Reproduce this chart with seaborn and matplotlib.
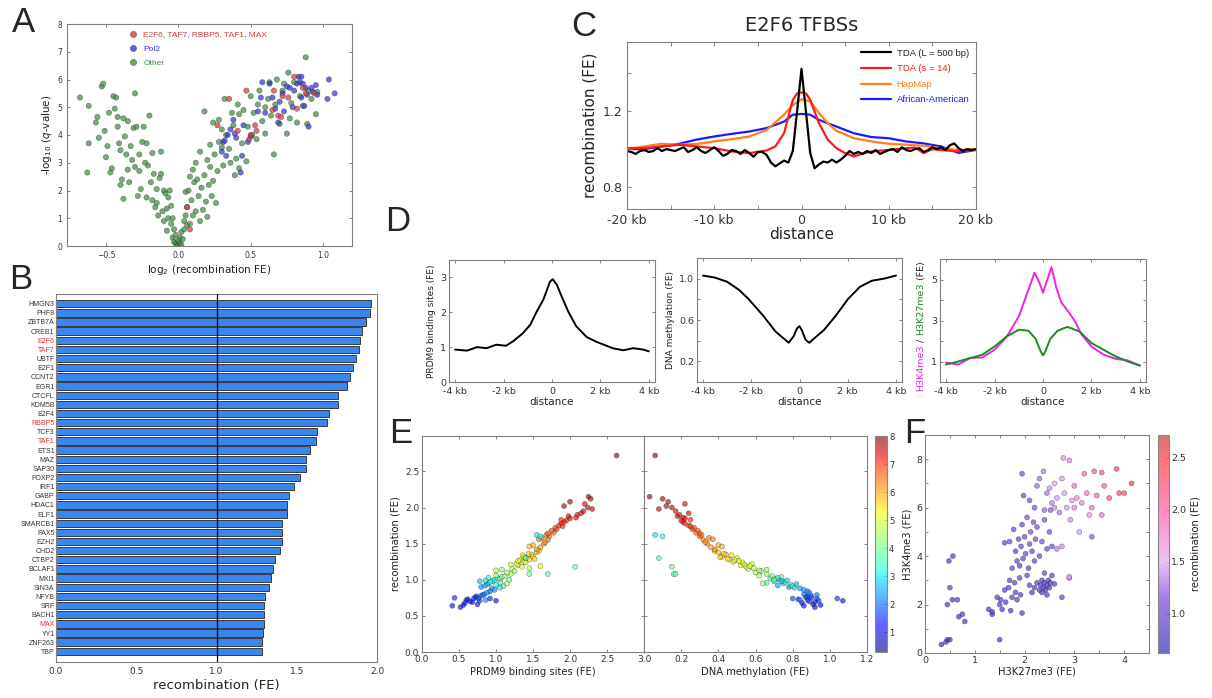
import numpy as np
import pandas as pd
import matplotlib
matplotlib.use("Agg")
import matplotlib.pyplot as plt
import seaborn as sns
from matplotlib.colors import LinearSegmentedColormap, ListedColormap, Normalize
from matplotlib.cm import ScalarMappable
from matplotlib.lines import Line2D
from matplotlib.ticker import MultipleLocator

# ---------------- DATA ----------------
# Panel A: volcano plot
a_other_x = [-0.68,-0.62,-0.62,-0.63,-0.57,-0.56,-0.55,-0.53,-0.52,-0.51,
             -0.50,-0.49,-0.48,-0.47,-0.46,-0.45,-0.44,-0.43,-0.42,-0.42,
             -0.41,-0.40,-0.40,-0.39,-0.38,-0.38,-0.37,-0.36,-0.35,-0.35,
             -0.34,-0.33,-0.32,-0.31,-0.30,-0.30,-0.29,-0.28,-0.27,-0.27,
             -0.26,-0.25,-0.24,-0.23,-0.22,-0.22,-0.21,-0.20,-0.19,-0.18,
             -0.18,-0.17,-0.16,-0.15,-0.15,-0.14,-0.13,-0.12,-0.12,-0.11,
             -0.10,-0.10,-0.09,-0.08,-0.08,-0.07,-0.07,-0.06,-0.05,-0.05,
             -0.04,-0.04,-0.03,-0.03,-0.02,-0.02,-0.01,0.00,0.00,0.01,
             0.01,0.02,0.02,0.03,0.04,0.04,0.05,0.05,0.06,0.06,
             0.07,0.08,0.08,0.09,0.10,0.10,0.11,0.12,0.12,0.13,
             0.14,0.15,0.15,0.16,0.17,0.18,0.18,0.19,0.20,0.20,
             0.21,0.22,0.22,0.23,0.24,0.24,0.25,0.26,0.27,0.28,
             0.28,0.30,0.30,0.31,0.32,0.33,0.35,0.36,0.37,0.38,
             0.39,0.40,0.41,0.42,0.42,0.44,0.45,0.47,0.48,0.50,
             0.51,0.52,0.54,0.55,0.56,0.58,0.60,0.60,0.62,0.63,
             0.64,0.66,0.67,0.68,0.70,0.72,0.73,0.75,0.76,0.77,
             0.78,0.80,0.82,0.84,0.86,0.88,0.89,0.90,0.92,0.95,
             0.96]
a_other_y = [5.35,5.05,3.70,2.65,4.45,4.65,3.90,5.75,5.85,4.15,
             3.20,3.60,4.80,2.65,2.80,5.40,4.95,5.35,4.30,4.65,
             3.70,3.45,2.20,2.40,1.70,4.60,3.95,3.30,4.50,2.75,
             2.30,3.60,3.10,4.25,5.50,2.85,4.30,1.80,3.30,2.70,
             2.05,3.75,4.30,3.00,1.75,3.70,2.90,4.70,2.30,3.35,
             1.65,2.60,1.40,2.05,1.55,1.10,2.45,3.40,2.60,1.25,
             0.90,2.00,1.90,1.35,0.55,1.00,1.75,2.00,0.80,1.45,
             0.30,1.00,0.60,0.15,0.40,0.10,0.05,0.20,0.02,0.30,
             0.10,0.05,0.50,0.25,0.90,0.60,1.10,1.95,1.40,0.75,
             2.00,0.80,2.50,1.65,2.75,1.10,2.30,1.25,3.00,2.40,
             1.80,3.40,0.90,2.10,1.30,4.85,2.55,1.60,3.10,1.05,
             2.20,2.85,3.65,1.80,2.35,4.45,3.30,1.55,2.70,3.75,
             4.55,4.20,3.55,2.90,5.30,4.00,3.50,3.00,4.80,4.35,
             2.55,3.15,5.10,4.75,2.80,3.70,4.90,3.05,4.30,5.40,
             4.00,4.80,3.85,5.10,5.60,4.50,5.00,4.05,5.30,5.90,
             4.70,3.30,5.10,6.00,4.40,5.60,5.85,4.05,6.25,4.60,
             5.15,5.90,4.45,5.40,5.05,6.80,4.40,5.60,5.30,4.75,
             5.55]
a_pol2_x = [0.30,0.31,0.32,0.33,0.34,0.36,0.38,0.39,0.40,0.43,
            0.44,0.45,0.48,0.50,0.55,0.57,0.58,0.60,0.63,0.65,
            0.67,0.69,0.70,0.72,0.73,0.75,0.77,0.79,0.80,0.82,
            0.83,0.84,0.85,0.86,0.87,0.88,0.89,0.90,0.92,0.93,
            0.95,0.96,1.03,1.04,1.08,0.85]
a_pol2_y = [3.40,3.75,3.80,3.25,4.00,4.20,4.55,4.05,3.90,2.65,
            3.25,4.35,3.75,3.95,4.85,5.35,5.90,4.80,5.85,5.35,
            4.95,4.45,5.20,5.50,4.85,5.75,5.70,5.00,5.60,5.85,
            6.10,5.90,5.35,5.85,5.05,5.70,5.45,4.30,5.70,5.55,
            5.80,5.45,5.30,6.00,5.50,6.10]
a_tf_x = [0.06,0.08,0.27,0.35,0.41,0.47,0.49,0.50,0.53,0.54,
          0.65,0.66,0.69,0.71,0.72,0.76,0.80,0.82,0.86,0.88,0.94]
a_tf_y = [1.40,0.60,4.35,5.30,4.15,5.60,3.85,4.00,4.35,4.15,
          4.90,5.60,4.70,4.65,5.40,5.35,6.10,4.95,5.70,5.50,5.50]
a_groups = ["E2F6, TAF7, RBBP5, TAF1, MAX", "Pol2", "Other"]

# Panel B: recombination FE per factor
b_factors = ['HMGN3','PHF8','ZBTB7A','CREB1','E2F6','TAF7','UBTF','E2F1','CCNT2','EGR1',
             'CTCFL','KDM5B','E2F4','RBBP5','TCF3','TAF1','ETS1','MAZ','SAP30','FOXP2',
             'IRF1','GABP','HDAC1','ELF1','SMARCB1','PAX5','EZH2','CHD2','CTBP2','BCLAF1',
             'MXI1','SIN3A','NFYB','SRF','BACH1','MAX','YY1','ZNF263','TBP']
b_values = [1.965,1.958,1.934,1.907,1.892,1.890,1.867,1.850,1.834,1.815,
            1.757,1.757,1.700,1.689,1.629,1.620,1.585,1.560,1.556,1.519,
            1.483,1.452,1.440,1.440,1.409,1.405,1.405,1.396,1.367,1.349,
            1.340,1.328,1.305,1.297,1.295,1.295,1.290,1.286,1.286]
b_highlight = ['E2F6','TAF7','RBBP5','TAF1','MAX']

# Panel C: recombination around E2F6 TFBSs
c_black_x = [-20,-19.5,-19,-18.5,-18,-17.5,-17,-16.5,-16,-15.5,-15,-14.5,-14,-13.5,-13,-12.5,
             -12,-11.5,-11,-10.5,-10,-9.5,-9,-8.5,-8,-7.5,-7,-6.5,-6,-5.5,-5,-4.5,-4,-3.5,
             -3,-2.5,-2,-1.5,-1,-0.5,0,0.5,1,1.5,2,2.5,3,3.5,4,4.5,5,5.5,6,6.5,7,7.5,8,8.5,
             9,9.5,10,10.5,11,11.5,12,12.5,13,13.5,14,14.5,15,15.5,16,16.5,17,17.5,18,18.5,
             19,19.5,20]
c_black_y = [0.990,0.985,0.975,0.990,0.995,0.985,0.990,1.005,0.990,1.000,0.995,0.990,1.000,1.010,
             0.985,0.995,1.010,0.990,0.980,0.995,1.010,0.990,0.965,0.975,0.995,0.990,0.975,0.995,
             0.980,0.960,0.985,0.985,0.970,0.930,0.910,0.925,0.940,0.930,0.990,1.200,1.420,1.200,
             0.980,0.900,0.920,0.935,0.930,0.945,0.930,0.945,0.965,0.990,0.975,0.985,0.975,0.990,
             0.980,0.995,0.975,0.985,0.995,1.000,0.985,1.010,0.995,0.990,1.000,1.005,0.985,0.995,
             1.010,1.000,1.010,0.995,1.020,1.030,1.005,0.990,1.000,0.995,1.000]
c_red_x = [-20,-18,-16,-14,-12,-10,-8,-6,-4,-3,-2,-1,-0.5,0,0.5,1,2,3,4,5,6,7,8,10,12,13,14,15,16,18,20]
c_red_y = [1.005,1.005,1.014,1.023,1.014,1.005,0.988,0.979,0.993,1.014,1.083,1.257,1.292,1.296,1.292,
           1.257,1.136,1.050,1.005,0.979,0.962,0.976,0.988,0.996,1.005,1.008,0.979,1.000,0.995,0.988,0.998]
c_orange_x = [-20,-18,-16,-14,-12,-10,-8,-6,-4,-2,-1,0,1,2,3,4,6,8,10,12,14,16,18,20]
c_orange_y = [1.000,1.014,1.028,1.023,1.027,1.040,1.052,1.066,1.100,1.180,1.230,1.260,1.250,1.188,
              1.136,1.096,1.057,1.040,1.028,1.023,1.018,1.005,0.996,1.000]
c_blue_x = [-20,-18,-16,-14,-12,-10,-8,-6,-4,-2,-1,0,1,2,4,6,8,10,12,14,16,18,20]
c_blue_y = [1.000,1.000,1.014,1.028,1.050,1.066,1.080,1.092,1.110,1.144,1.180,1.184,1.180,1.153,
            1.118,1.083,1.063,1.057,1.040,1.030,1.014,0.980,0.996]
c_series = ["TDA (L = 500 bp)", "TDA (s = 14)", "HapMap", "African-American"]

# Panel D profiles (distance in kb)
d1_x = [-4.0,-3.5,-3.1,-2.7,-2.3,-1.9,-1.6,-1.2,-0.9,-0.63,-0.36,-0.08,0.03,0.2,0.4,0.67,1.0,1.43,
        1.84,2.25,2.5,2.94,3.35,3.76,4.0]
d1_y = [0.93,0.90,1.00,0.97,1.07,1.04,1.17,1.40,1.64,2.02,2.36,2.88,2.95,2.79,2.45,2.02,1.60,1.29,
        1.15,1.04,0.97,0.91,0.97,0.93,0.88]
d2_x = [-4.0,-3.5,-3.0,-2.5,-2.1,-1.5,-1.0,-0.7,-0.45,-0.25,-0.1,0.0,0.1,0.25,0.4,0.6,1.0,1.5,2.0,
        2.5,3.0,3.5,4.0]
d2_y = [1.03,1.01,0.97,0.89,0.80,0.64,0.49,0.43,0.38,0.44,0.52,0.54,0.50,0.41,0.38,0.42,0.50,0.64,
        0.80,0.92,0.98,1.00,1.03]
d3_k4_x = [-4.0,-3.5,-3.0,-2.5,-2.0,-1.5,-1.0,-0.6,-0.35,-0.15,0.0,0.15,0.35,0.55,0.75,1.0,1.3,1.6,
           2.0,2.5,3.0,3.5,4.0]
d3_k4_y = [0.95,0.85,1.17,1.20,1.57,2.20,3.20,4.50,5.33,4.85,4.35,4.90,5.60,4.60,3.90,3.50,3.00,
           2.30,1.73,1.33,1.13,1.05,0.80]
d3_k27_x = [-4.0,-3.5,-3.0,-2.5,-2.0,-1.5,-1.0,-0.6,-0.3,-0.1,0.0,0.1,0.3,0.6,1.0,1.5,2.0,2.5,3.0,
            3.5,4.0]
d3_k27_y = [0.85,1.00,1.17,1.33,1.73,2.22,2.55,2.50,2.10,1.50,1.30,1.50,2.10,2.50,2.69,2.47,1.90,
            1.57,1.25,1.00,0.80]

# Panel E: per-locus PRDM9 / methylation vs recombination, colour = third mark
e_recomb = [0.64,0.62,0.75,0.72,0.68,0.70,0.74,0.76,0.66,0.71,0.73,0.78,0.80,0.69,0.77,0.65,0.72,0.74,0.79,0.82,
            0.92,0.95,0.98,1.00,1.02,0.90,0.94,0.97,1.01,1.04,0.88,0.93,0.96,0.99,1.03,1.05,0.91,0.86,0.95,1.00,
            0.98,1.06,0.89,0.84,1.08,
            1.10,1.15,1.20,1.25,1.30,1.35,1.12,1.18,1.22,1.28,1.32,1.38,1.14,1.24,1.27,1.34,1.40,1.16,1.21,1.29,
            1.36,1.19,1.26,1.31,1.13,
            1.42,1.45,1.50,1.55,1.60,1.65,1.70,1.75,1.48,1.58,1.62,1.68,1.72,1.78,1.52,1.46,1.64,1.56,1.74,1.80,
            1.82,1.85,1.88,1.90,1.95,2.00,2.05,2.08,2.12,2.15,1.86,1.92,1.98,2.02,1.83,2.72,
            1.62,1.60,1.30,1.18,1.08,1.08,0.74,0.71]
e_prdm9 = [0.41,0.52,0.44,0.60,0.58,0.65,0.70,0.72,0.75,0.78,0.62,0.80,0.84,0.68,0.74,0.56,0.86,0.76,0.82,0.88,
           0.85,0.90,0.95,0.98,1.02,0.80,0.88,0.92,1.05,1.08,0.94,1.00,1.06,0.86,0.90,1.12,1.10,0.98,1.15,1.18,
           0.78,1.00,1.05,0.92,1.20,
           1.15,1.22,1.30,1.38,1.42,1.48,1.25,1.35,1.28,1.45,1.50,1.55,1.08,1.40,1.32,1.36,1.58,1.45,1.20,1.52,
           1.44,1.60,1.30,1.38,1.00,
           1.55,1.60,1.65,1.70,1.72,1.78,1.82,1.85,1.50,1.62,1.68,1.75,1.80,1.88,1.66,1.45,1.70,1.58,1.90,1.92,
           1.95,2.00,1.98,2.10,2.18,2.24,2.20,2.00,2.28,2.25,2.08,2.15,2.30,1.92,1.88,2.63,
           1.55,1.60,1.40,2.07,1.45,1.70,0.92,1.00]
e_meth = [0.86,0.92,0.90,0.88,0.85,0.89,0.93,0.87,0.91,0.94,0.83,0.90,0.86,0.92,0.88,0.95,0.84,0.80,0.93,0.89,
          0.72,0.75,0.70,0.73,0.68,0.78,0.82,0.76,0.71,0.74,0.84,0.79,0.66,0.77,0.72,0.69,0.80,0.86,0.64,0.70,
          0.74,0.62,0.81,0.88,0.66,
          0.60,0.56,0.52,0.48,0.50,0.44,0.63,0.55,0.58,0.46,0.42,0.40,0.66,0.53,0.49,0.47,0.38,0.59,0.54,0.45,
          0.43,0.57,0.51,0.41,0.62,
          0.38,0.36,0.34,0.32,0.30,0.28,0.26,0.24,0.40,0.35,0.31,0.29,0.27,0.22,0.33,0.42,0.30,0.37,0.25,0.21,
          0.20,0.22,0.18,0.19,0.17,0.15,0.22,0.13,0.10,0.03,0.21,0.24,0.08,0.12,0.25,0.06,
          0.06,0.10,0.08,0.15,0.16,0.17,1.04,1.07]
e_color = [1.2,1.0,1.5,1.4,1.3,1.6,1.8,1.5,1.2,1.7,1.4,1.9,2.0,1.3,1.6,1.1,2.2,1.8,2.1,2.3,
           2.5,2.8,3.2,3.0,3.5,2.2,2.6,3.4,3.8,4.0,2.4,3.1,3.6,2.9,3.3,4.2,3.7,2.3,4.4,3.9,
           2.7,4.5,3.0,2.1,4.6,
           4.6,4.8,5.0,5.2,5.3,5.5,4.4,5.0,4.9,5.4,5.6,5.8,4.2,5.1,5.2,5.4,6.0,4.7,4.9,5.5,
           5.7,5.1,5.3,5.6,4.5,
           6.0,6.1,6.2,6.3,6.5,6.6,6.8,7.0,5.9,6.4,6.5,6.7,6.9,7.1,6.2,5.8,6.6,6.3,7.0,7.2,
           7.2,7.3,7.4,7.3,7.5,7.6,7.5,7.8,7.7,7.9,7.3,7.4,7.6,7.7,7.1,8.0,
           3.0,3.2,3.5,4.0,3.8,3.6,1.5,1.2]

# Panel F: H3K27me3 vs H3K4me3, colour = recombination
f_k27 = [0.33,0.42,0.45,0.50,0.45,0.50,0.48,0.56,0.55,0.65,0.68,0.75,0.80,1.50,1.35,
         1.28,1.35,1.45,1.50,1.52,1.55,1.60,1.62,1.68,1.72,1.75,1.80,1.82,1.85,1.90,1.95,1.92,1.70,
         1.60,1.70,1.75,1.78,1.82,1.85,1.88,1.90,1.93,1.95,1.97,2.00,2.02,2.05,2.08,2.10,2.12,2.15,
         2.18,2.20,2.22,2.25,2.30,2.35,2.40,2.45,2.50,2.55,2.65,2.05,2.10,
         2.20,2.25,2.30,2.32,2.35,2.38,2.40,2.42,2.45,2.48,2.50,2.52,2.55,2.35,2.45,2.15,2.60,2.40,2.75,2.90,
         1.95,1.98,2.10,2.20,2.25,2.30,2.38,2.45,2.50,2.52,2.55,2.60,2.65,2.70,2.75,2.78,2.80,2.85,
         2.90,2.92,2.95,3.00,3.05,3.10,3.15,3.20,3.25,3.30,3.35,3.40,3.45,3.55,3.60,3.55,3.70,3.85,
         3.90,4.00,4.15,3.35,2.90,2.75,3.00,2.60,2.40]
f_k4 = [0.35,0.45,0.55,0.55,2.00,2.70,3.80,4.00,2.20,2.20,1.50,1.60,1.30,0.55,1.60,
        1.80,1.70,2.30,2.00,2.20,1.80,2.60,2.10,2.70,1.75,2.30,2.90,2.50,2.20,3.10,1.65,2.40,3.00,
        4.55,4.60,3.50,5.10,4.20,3.80,4.70,3.60,4.40,5.30,3.90,4.80,4.10,5.60,3.50,4.50,5.00,4.20,
        5.40,3.80,4.70,5.20,4.00,4.60,5.50,4.30,5.00,4.40,4.30,3.20,2.80,
        2.70,2.90,2.60,2.80,3.00,2.70,2.90,2.60,2.80,3.00,2.70,2.90,3.20,2.50,2.40,2.50,2.85,3.30,2.30,3.10,
        7.40,6.50,6.30,6.00,6.90,7.20,7.50,6.60,6.80,5.90,6.20,7.00,6.40,5.80,7.20,8.05,6.60,6.00,
        7.95,5.50,6.30,6.90,6.40,5.00,6.20,7.40,6.60,5.70,6.00,7.50,6.50,7.45,6.90,5.70,6.40,7.60,
        6.60,6.60,7.00,4.80,3.15,4.40,6.00,6.00,5.90]
f_recomb = [0.75,0.78,0.80,0.76,0.85,0.90,0.88,0.92,0.82,0.84,0.80,0.83,0.79,0.78,0.85,
            0.85,0.82,0.88,0.86,0.90,0.84,0.92,0.87,0.93,0.83,0.90,0.95,0.91,0.89,0.98,0.84,0.92,0.96,
            1.00,1.02,0.95,1.05,1.00,0.97,1.04,0.96,1.02,1.08,0.98,1.06,1.00,1.12,0.97,1.05,1.08,1.03,
            1.12,0.99,1.07,1.10,1.02,1.08,1.15,1.06,1.12,1.10,1.35,0.95,0.92,
            0.85,0.88,0.84,0.86,0.90,0.85,0.88,0.83,0.87,0.90,0.86,0.89,0.95,0.82,0.84,0.83,0.92,0.96,1.00,1.25,
            1.05,1.10,1.15,1.12,1.25,1.30,1.35,1.30,1.40,1.20,1.35,1.50,1.45,1.30,1.60,1.70,1.55,1.45,
            1.80,1.40,1.65,1.85,1.70,1.45,1.75,1.95,1.85,1.70,1.80,2.05,1.95,2.10,2.00,1.85,2.15,2.30,
            2.20,2.25,2.40,1.20,1.55,1.40,1.75,1.40,1.25]

# ---------------- STYLE ----------------
sns.set_style("ticks")
plt.rcParams.update({
    'font.family': ['DejaVu Sans'],
    'axes.edgecolor': '#808080',
    'axes.linewidth': 0.8,
    'xtick.direction': 'in', 'ytick.direction': 'in',
    'xtick.top': True, 'ytick.right': True,
    'xtick.color': '#707070', 'ytick.color': '#707070',
    'xtick.labelcolor': '#333333', 'ytick.labelcolor': '#333333',
    'xtick.major.size': 3, 'ytick.major.size': 3,
    'xtick.minor.size': 3, 'ytick.minor.size': 3,
    'axes.labelcolor': '#222222',
})

W, H = 1212, 698
fig = plt.figure(figsize=(W / 100, H / 100), dpi=100)

def rect(l, t, r, b):
    return [l / W, 1 - b / H, (r - l) / W, (b - t) / H]

def letter(x, y, s):
    fig.text(x / W, 1 - y / H, s, fontsize=25, va='top', ha='left',
             family=['Liberation Sans', 'DejaVu Sans'])

# ---------------- PANEL A ----------------
axA = fig.add_axes(rect(67, 24, 352, 246))
dfA = pd.DataFrame({
    'x': a_other_x + a_pol2_x + a_tf_x,
    'y': a_other_y + a_pol2_y + a_tf_y,
    'group': [a_groups[2]] * len(a_other_x) + [a_groups[1]] * len(a_pol2_x) + [a_groups[0]] * len(a_tf_x),
})
palA = {a_groups[0]: '#d23c3c', a_groups[1]: '#3434dc', a_groups[2]: '#3f8f3f'}
sns.scatterplot(data=dfA, x='x', y='y', hue='group', palette=palA, s=15, alpha=0.72,
                edgecolor='#303030', linewidth=0.3, legend=False, ax=axA)
axA.set_xlim(-0.77, 1.2)
axA.set_ylim(0, 8)
axA.set_xticks([-0.5, 0.0, 0.5, 1.0])
axA.set_yticks(range(0, 9))
axA.tick_params(labelsize=5.5, length=2.5, width=0.6)
axA.set_xlabel(r"log$_2$ (recombination FE)", fontsize=7.5, labelpad=2)
axA.set_ylabel(r"-log$_{10}$ ($q$-value)", fontsize=7.5, labelpad=2)
handlesA = [Line2D([], [], marker='o', ls='', markersize=4.5, markerfacecolor=palA[g],
                   markeredgecolor='#303030', markeredgewidth=0.3, alpha=0.8) for g in a_groups]
axA.legend(handlesA, a_groups, loc='upper left', bbox_to_anchor=(0.18, 1.0), frameon=False,
           labelcolor=['#d23c3c', '#3434dc', '#3f8f3f'], handletextpad=0.2,
           labelspacing=0.75, borderaxespad=0.4,
           prop={'family': ['Liberation Sans', 'DejaVu Sans'], 'size': 6})
letter(12, 6, 'A')

# ---------------- PANEL B ----------------
axB = fig.add_axes(rect(56, 294, 377, 662))
dfB = pd.DataFrame({'factor': b_factors, 'fe': b_values})
sns.barplot(data=dfB, y='factor', x='fe', orient='h', color='#3a86ee', saturation=1,
            edgecolor='#3a3a3a', linewidth=0.7, width=0.8, ax=axB)
axB.axvline(1.0, color='black', lw=0.9, zorder=5)
axB.set_xlim(0, 2.0)
axB.set_ylim(len(b_factors) - 1 + 1.17, -1.06)
axB.set_xticks([0.0, 0.5, 1.0, 1.5, 2.0])
axB.tick_params(axis='x', labelsize=6.5, length=0, top=False)
axB.tick_params(axis='y', labelsize=5, length=0, right=False, pad=1)
for lab in axB.get_yticklabels():
    if lab.get_text() in b_highlight:
        lab.set_color('#e03030')
    lab.set_fontfamily(['Liberation Sans', 'DejaVu Sans'])
axB.set_xlabel("recombination (FE)", fontsize=9.5, labelpad=2)
axB.set_ylabel("")
letter(9, 263, 'B')

# ---------------- PANEL C ----------------
axC = fig.add_axes(rect(627, 42, 976, 209))
dfC = pd.concat([
    pd.DataFrame({'kb': c_black_x, 'fe': c_black_y, 'series': c_series[0]}),
    pd.DataFrame({'kb': c_red_x, 'fe': c_red_y, 'series': c_series[1]}),
    pd.DataFrame({'kb': c_orange_x, 'fe': c_orange_y, 'series': c_series[2]}),
    pd.DataFrame({'kb': c_blue_x, 'fe': c_blue_y, 'series': c_series[3]}),
], ignore_index=True)
palC = {c_series[0]: '#000000', c_series[1]: '#ff1a1a', c_series[2]: '#ff7f1a', c_series[3]: '#1a1aff'}
sns.lineplot(data=dfC, x='kb', y='fe', hue='series', palette=palC, hue_order=c_series[::-1],
             estimator=None, lw=1.6, legend=False, ax=axC)
axC.set_xlim(-20, 20)
axC.set_ylim(0.687, 1.56)
axC.set_xticks([-20, -15, -10, -5, 0, 5, 10, 15, 20])
axC.set_xticklabels(['-20 kb', '', '-10 kb', '', '0', '', '10 kb', '', '20 kb'])
axC.set_yticks([0.8, 1.0, 1.2, 1.4])
axC.set_yticklabels(['0.8', '', '1.2', ''])
axC.tick_params(labelsize=9, length=3, width=0.6)
axC.set_xlabel("distance", fontsize=11, labelpad=0)
axC.set_ylabel("recombination (FE)", fontsize=11, labelpad=3)
axC.set_title("E2F6 TFBSs", fontsize=14, pad=8)
handlesC = [Line2D([], [], color=palC[s], lw=1.6) for s in c_series]
axC.legend(handlesC, c_series, loc='upper right', frameon=False,
           labelcolor=['#222222', '#ff1a1a', '#ff7f1a', '#1a1aff'], handlelength=3.2,
           handletextpad=0.6, labelspacing=0.7, borderaxespad=0.3,
           prop={'family': ['Liberation Sans', 'DejaVu Sans'], 'size': 6.8})
letter(571, 10, 'C')

# ---------------- PANEL D ----------------
kb_ticks = [-4, -2, 0, 2, 4]
kb_labels = ['-4 kb', '-2 kb', '0', '2 kb', '4 kb']

def style_d(ax):
    ax.set_xlim(-4.25, 4.25)
    ax.set_xticks(kb_ticks)
    ax.set_xticklabels(kb_labels)
    ax.tick_params(labelsize=6.8, length=2.5, width=0.6, pad=2)
    ax.tick_params(axis='x', pad=3.5)
    ax.set_xlabel("distance", fontsize=7.5, labelpad=1)

axD1 = fig.add_axes(rect(449, 260, 655, 382))
sns.lineplot(x=d1_x, y=d1_y, color='black', lw=1.4, ax=axD1)
style_d(axD1)
axD1.set_ylim(0, 3.5)
axD1.set_yticks([0, 1, 2, 3])
axD1.set_ylabel("PRDM9 binding sites (FE)", fontsize=6.5, labelpad=3)

axD2 = fig.add_axes(rect(697, 258, 902, 382))
sns.lineplot(x=d2_x, y=d2_y, color='black', lw=1.4, ax=axD2)
style_d(axD2)
axD2.set_ylim(0, 1.2)
axD2.set_yticks([0.2, 0.4, 0.6, 0.8, 1.0])
axD2.set_yticklabels(['0.2', '', '0.6', '', '1.0'])
axD2.set_ylabel("DNA methylation (FE)", fontsize=6.5, labelpad=3)

axD3 = fig.add_axes(rect(940, 259, 1146, 382))
sns.lineplot(x=d3_k4_x, y=d3_k4_y, color='#ee22ee', lw=1.4, ax=axD3)
sns.lineplot(x=d3_k27_x, y=d3_k27_y, color='#1f8a1f', lw=1.4, ax=axD3)
style_d(axD3)
axD3.set_ylim(0, 6)
axD3.set_yticks([1, 2, 3, 4, 5])
axD3.set_yticklabels(['1', '', '3', '', '5'])
t1 = axD3.text(-0.092, -0.075, "H3K4me3", transform=axD3.transAxes, rotation=90,
               ha='center', va='bottom', fontsize=6.8, color='#ee22ee')
t2 = axD3.annotate(" / ", xy=(0.5, 1), xycoords=t1, rotation=90, ha='center', va='bottom',
                   fontsize=6.8, color='#222222')
t3 = axD3.annotate("H3K27me3", xy=(0.5, 1), xycoords=t2, rotation=90, ha='center', va='bottom',
                   fontsize=6.8, color='#1f8a1f')
axD3.annotate(" (FE)", xy=(0.5, 1), xycoords=t3, rotation=90, ha='center', va='bottom',
              fontsize=6.8, color='#222222')
letter(385, 205, 'D')

# ---------------- PANEL E ----------------
normE = Normalize(0.3, 8.0)
jet = plt.get_cmap('jet')
axE1 = fig.add_axes(rect(422, 436, 644, 652))
axE2 = fig.add_axes(rect(644, 436, 867, 652), sharey=axE1)
sns.scatterplot(x=e_prdm9, y=e_recomb, hue=e_color, palette=jet, hue_norm=normE, s=13,
                alpha=0.62, edgecolor='#2a2a2a', linewidth=0.35, legend=False, ax=axE1)
sns.scatterplot(x=e_meth, y=e_recomb, hue=e_color, palette=jet, hue_norm=normE, s=13,
                alpha=0.62, edgecolor='#2a2a2a', linewidth=0.35, legend=False, ax=axE2)
axE1.set_xlim(0, 3.0)
axE1.set_ylim(0, 2.99)
axE1.set_xticks([0.0, 0.5, 1.0, 1.5, 2.0, 2.5, 3.0])
axE1.set_yticks([0.0, 0.5, 1.0, 1.5, 2.0, 2.5])
axE2.set_xlim(0, 1.2)
axE2.set_xticks([0.2, 0.4, 0.6, 0.8, 1.0, 1.2])
axE2.tick_params(labelleft=False)
for ax in (axE1, axE2):
    ax.tick_params(labelsize=6.5, length=2.5, width=0.6, pad=2)
axE1.set_xlabel("PRDM9 binding sites (FE)", fontsize=7.2, labelpad=2)
axE2.set_xlabel("DNA methylation (FE)", fontsize=7.2, labelpad=2)
axE1.set_ylabel("recombination (FE)", fontsize=7.2, labelpad=3)
jet_cols = jet(np.linspace(0, 1, 256))
jet_cols[:, 3] = 0.62
caxE = fig.add_axes(rect(875, 436, 887, 652))
cbE = fig.colorbar(ScalarMappable(norm=normE, cmap=ListedColormap(jet_cols)), cax=caxE)
cbE.set_ticks(range(1, 9))
cbE.outline.set_edgecolor('#888888')
caxE.tick_params(labelsize=6, length=2, width=0.5, direction='in', pad=1.5)
letter(389, 417, 'E')

# ---------------- PANEL F ----------------
normF = Normalize(0.62, 2.72)
cmapF = LinearSegmentedColormap.from_list('recomb', [
    (0.0, '#2f2fb0'), (0.25, '#7a46e0'), (0.42, '#e6a8f4'), (0.65, '#ff5aa8'),
    (0.88, '#ff3a3a'), (1.0, '#c43c3c')])
axF = fig.add_axes(rect(925, 435, 1149, 653))
sns.scatterplot(x=f_k27, y=f_k4, hue=f_recomb, palette=cmapF, hue_norm=normF, s=13,
                alpha=0.7, edgecolor='#2a2a4a', linewidth=0.3, legend=False, ax=axF)
axF.set_xlim(0, 4.5)
axF.set_ylim(0, 9)
axF.set_xticks([0, 1, 2, 3, 4])
axF.set_yticks([0, 2, 4, 6, 8])
axF.xaxis.set_minor_locator(MultipleLocator(0.5))
axF.yaxis.set_minor_locator(MultipleLocator(1))
axF.tick_params(labelsize=6.8, length=2.5, width=0.6, pad=2)
axF.tick_params(which='minor', length=2.5, width=0.6)
axF.set_xlabel("H3K27me3 (FE)", fontsize=7.2, labelpad=1)
axF.set_ylabel("H3K4me3 (FE)", fontsize=7.2, labelpad=3)
f_cols = cmapF(np.linspace(0, 1, 256))
f_cols[:, 3] = 0.7
caxF = fig.add_axes(rect(1158, 435, 1169, 653))
cbF = fig.colorbar(ScalarMappable(norm=normF, cmap=ListedColormap(f_cols)), cax=caxF)
cbF.set_ticks([1.0, 1.5, 2.0, 2.5])
cbF.outline.set_edgecolor('#888888')
caxF.tick_params(labelsize=6.8, length=2, width=0.5, direction='in', pad=1.5)
cbF.set_label("recombination (FE)", fontsize=7.2, labelpad=3)
letter(904, 417, 'F')

fig.savefig("out.png", dpi=100)
